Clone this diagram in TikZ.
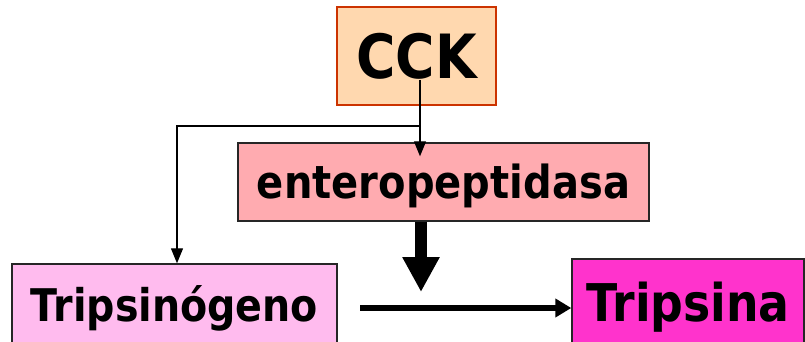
\documentclass[tikz,border=0pt]{standalone}
\usepackage{fontspec}
\usetikzlibrary{arrows.meta}
\usetikzlibrary{calc}
\newfontfamily\boxfont[FakeStretch=0.88]{DejaVu Sans}
\definecolor{cckfill}{HTML}{FFD8AF}
\definecolor{cckline}{HTML}{CC3300}
\definecolor{entfill}{HTML}{FFABB0}
\definecolor{tgfill}{HTML}{FFBBEE}
\definecolor{tpfill}{HTML}{FF33CC}

\begin{document}
\begin{tikzpicture}[x=1pt, y=-1pt,
    caja/.style={draw=black!85, line width=1.4pt, inner sep=0pt, text depth=0pt, font=\boxfont\bfseries},
    flecha/.style={line width=1.3pt, -{Triangle[width=12pt, length=15pt]}},
    gruesa/.style={line width=12pt, -{Triangle[width=35pt, length=35pt]}},
    media/.style={line width=6pt, -{Triangle[width=18pt, length=16pt]}}]
        \useasboundingbox (0,0) rectangle (805,342);
        \node[caja, draw=cckline, fill=cckfill, minimum width=159pt, minimum height=98pt, text height=46pt,
            font=\boxfont\bfseries\fontsize{61}{61}\selectfont] (cck) at (416.5,56) {CCK};
        \node[caja, fill=entfill, minimum width=411pt, minimum height=78pt, text height=33pt,
            font=\boxfont\bfseries\fontsize{45.5}{45.5}\selectfont] (ent) at (443.5,182) {enteropeptidasa};
        \node[caja, fill=tgfill, minimum width=325pt, minimum height=82pt, text height=33pt,
            font=\boxfont\bfseries\fontsize{45}{45}\selectfont] (tg) at (174.5,305) {Tripsinógeno};
        \node[caja, fill=tpfill, minimum width=232pt, minimum height=86pt, text height=38pt,
            font=\boxfont\bfseries\fontsize{52}{52}\selectfont] (tp) at (688,302) {Tripsina};
        \coordinate (cckpie) at (420,80);
        \coordinate (union) at (421,292);
        \coordinate (salida) at (360,308);
        \draw[flecha, shorten >=-14pt] (cckpie) -- (cckpie |- ent.north);
        \draw[flecha] (cckpie) -- ++(0,46) -| ([xshift=2.5pt]tg.north);
        \draw[gruesa] (ent.south -| union) -- (union);
        \draw[media] (salida) -- (salida -| tp.west);
\end{tikzpicture}
\end{document}
